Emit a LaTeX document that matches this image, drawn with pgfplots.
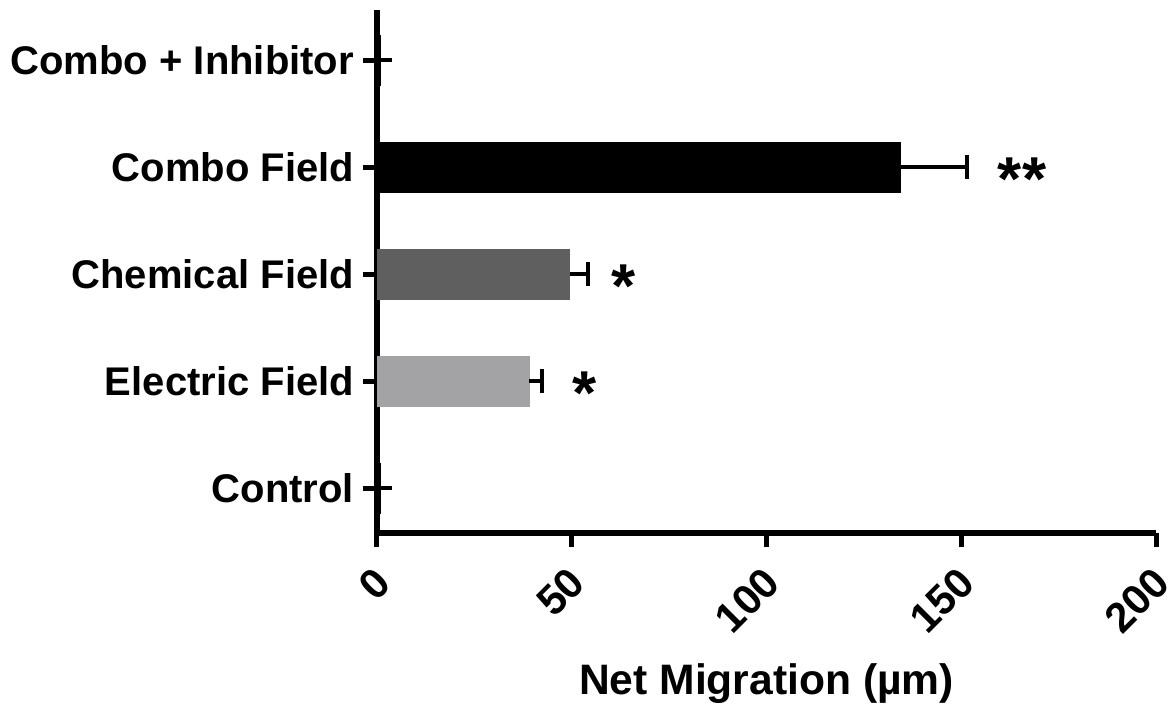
\documentclass[border=0pt]{standalone}
\usepackage{pgfplots}
\pgfplotsset{compat=1.18}
\usepackage{pgfplotstable}
\usepackage{fontspec}
\setmainfont{Liberation Sans}
\definecolor{darkbar}{HTML}{5F5F5F}
\definecolor{lightbar}{HTML}{A3A3A6}
\pgfplotstableread{
y x err
0 0.8 0.0
4 0.8 0.0
}\zerobars
\pgfplotstableread{
y x err
1 39.0 3.4
}\electric
\pgfplotstableread{
y x err
2 49.5 4.7
}\chemical
\pgfplotstableread{
y x err
3 134.3 17.2
}\combo
\pgfplotstableread{
x y label
53.4 1 *
63.4 2 *
165.6 3 **
}\stars
\begin{document}
\begin{tikzpicture}
\path[use as bounding box] (-188.5bp,-85.5bp) rectangle (398.5bp,266.5bp);
\begin{axis}[
  at={(0,0)}, anchor=south west,
  scale only axis,
  width=389.5bp, height=261.5bp,
  xbar, bar width=25bp, bar shift=0pt,
  xmin=0, xmax=200,
  ymin=-0.42, ymax=4.47,
  xtick={0,50,100,150,200},
  ytick={0,1,2,3,4},
  yticklabels={Control,Electric Field,Chemical Field,Combo Field,Combo + Inhibitor},
  axis lines*=left,
  axis line style={line width=2.7bp},
  tick style={line width=2.5bp, black},
  major tick length=7bp,
  tick align=outside,
  /pgf/number format/assume math mode=true,
  ticklabel style={font=\bfseries\fontsize{20bp}{22bp}\selectfont},
  yticklabel style={xshift=-1bp},
  xticklabel style={font=\bfseries\fontsize{21bp}{23bp}\selectfont, rotate=45, anchor=east, inner sep=0pt, xshift=-8bp, yshift=-12.1bp},
  xlabel={Net Migration (µm)},
  xlabel style={font=\bfseries\fontsize{21.3bp}{25bp}\selectfont, at={(axis description cs:0.5,0)}, anchor=center, yshift=-75.5bp},
  clip=false,
  error bars/x dir=plus, error bars/x explicit,
  error bars/error bar style={line width=2bp, black},
  error bars/error mark options={rotate=90, mark size=6bp, line width=2bp, black},
]
\addplot[fill=black, draw=black, line width=0.5bp] table[x=x, y=y, x error=err] {\zerobars};
\addplot[fill=lightbar, draw=lightbar] table[x=x, y=y, x error=err] {\electric};
\addplot[fill=darkbar, draw=darkbar] table[x=x, y=y, x error=err] {\chemical};
\addplot[fill=black, draw=black] table[x=x, y=y, x error=err] {\combo};
\addplot[draw=none, mark=none, xbar=false, error bars/x explicit=false,
  nodes near coords, point meta=explicit symbolic,
  every node near coord/.style={font=\bfseries\fontsize{31bp}{31bp}\selectfont, anchor=center, yshift=-6bp}]
  table[x=x, y=y, meta=label] {\stars};
\end{axis}
\end{tikzpicture}
\end{document}
